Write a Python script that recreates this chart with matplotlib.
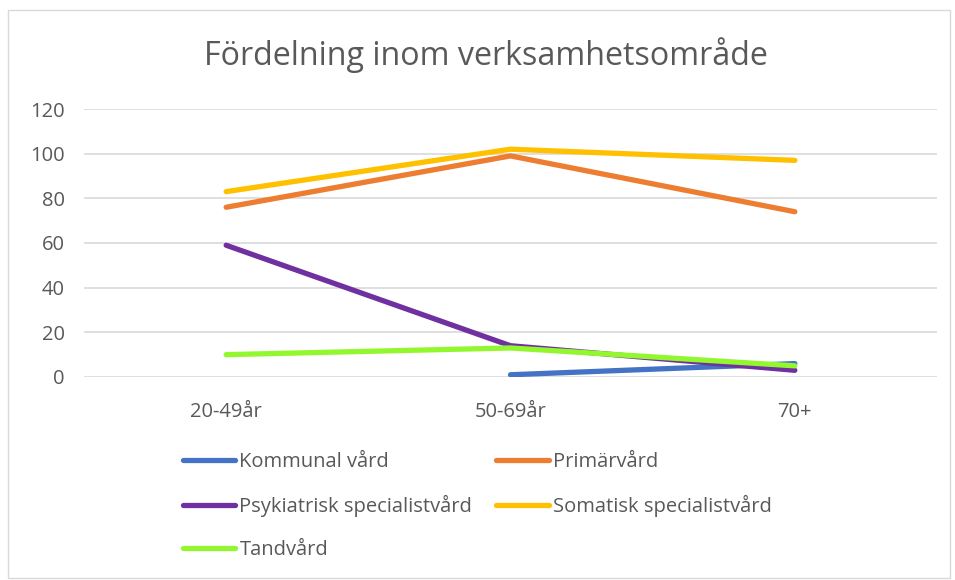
import matplotlib.pyplot as plt
import numpy as np

plt.rcParams['font.family'] = ['Open Sans', 'DejaVu Sans']

categories = ['20-49år', '50-69år', '70+']
kommunal = [np.nan, 1, 6]
primar = [76, 99, 74]
psykiatrisk = [59, 14, 3]
somatisk = [83, 102, 97]
tandvard = [10, 13, 5]

names = ['Kommunal vård', 'Primärvård', 'Psykiatrisk specialistvård',
         'Somatisk specialistvård', 'Tandvård']
colors = ['#4472C4', '#ED7D31', '#7030A0', '#FFC000', '#92F72E']
series = [kommunal, primar, psykiatrisk, somatisk, tandvard]

fig = plt.figure(figsize=(9.55, 5.8), dpi=100)
ax = fig.add_axes([84 / 955, 1 - 377 / 580, 853 / 955, 268 / 580])

x = np.arange(len(categories))
lines = {}
for name, col, vals in zip(names, colors, series):
    ln, = ax.plot(x, vals, color=col, linewidth=3.8, solid_capstyle='round',
                  solid_joinstyle='round', label=name)
    lines[name] = ln

ax.set_xlim(-0.5, 2.5)
ax.set_ylim(0, 120)
ax.set_yticks(range(0, 121, 20))
ax.set_xticks(x)
ax.set_xticklabels(categories)
ax.grid(axis='y', color='#D9D9D9', linewidth=1.2)
ax.set_axisbelow(True)
for s in ax.spines.values():
    s.set_visible(False)
ax.tick_params(length=0, labelsize=14.5, colors='#595959', pad=14)
ax.tick_params(axis='x', pad=18)

fig.text(486 / 955, 1 - 55 / 580, 'Fördelning inom verksamhetsområde', ha='center',
         va='center', fontsize=23.2, color='#595959')

# legend, laid out row by row like the original
order = ['Kommunal vård', 'Psykiatrisk specialistvård', 'Tandvård',
         'Primärvård', 'Somatisk specialistvård']
leg = fig.legend([lines[n] for n in order], order, ncol=2, frameon=False,
                 loc='upper left', bbox_to_anchor=(183 / 955, 1 - 452 / 580),
                 fontsize=14.5, handlelength=2.6, handletextpad=0.2,
                 columnspacing=1.2, labelspacing=1.15, borderaxespad=0,
                 borderpad=0)
for t in leg.get_texts():
    t.set_color('#595959')

# chart border
fig.patches.append(plt.Rectangle((8 / 955, 2 / 580), 942 / 955, 568 / 580,
                                 transform=fig.transFigure, fill=False,
                                 edgecolor='#D9D9D9', linewidth=1))

fig.savefig('out.png', dpi=100)
